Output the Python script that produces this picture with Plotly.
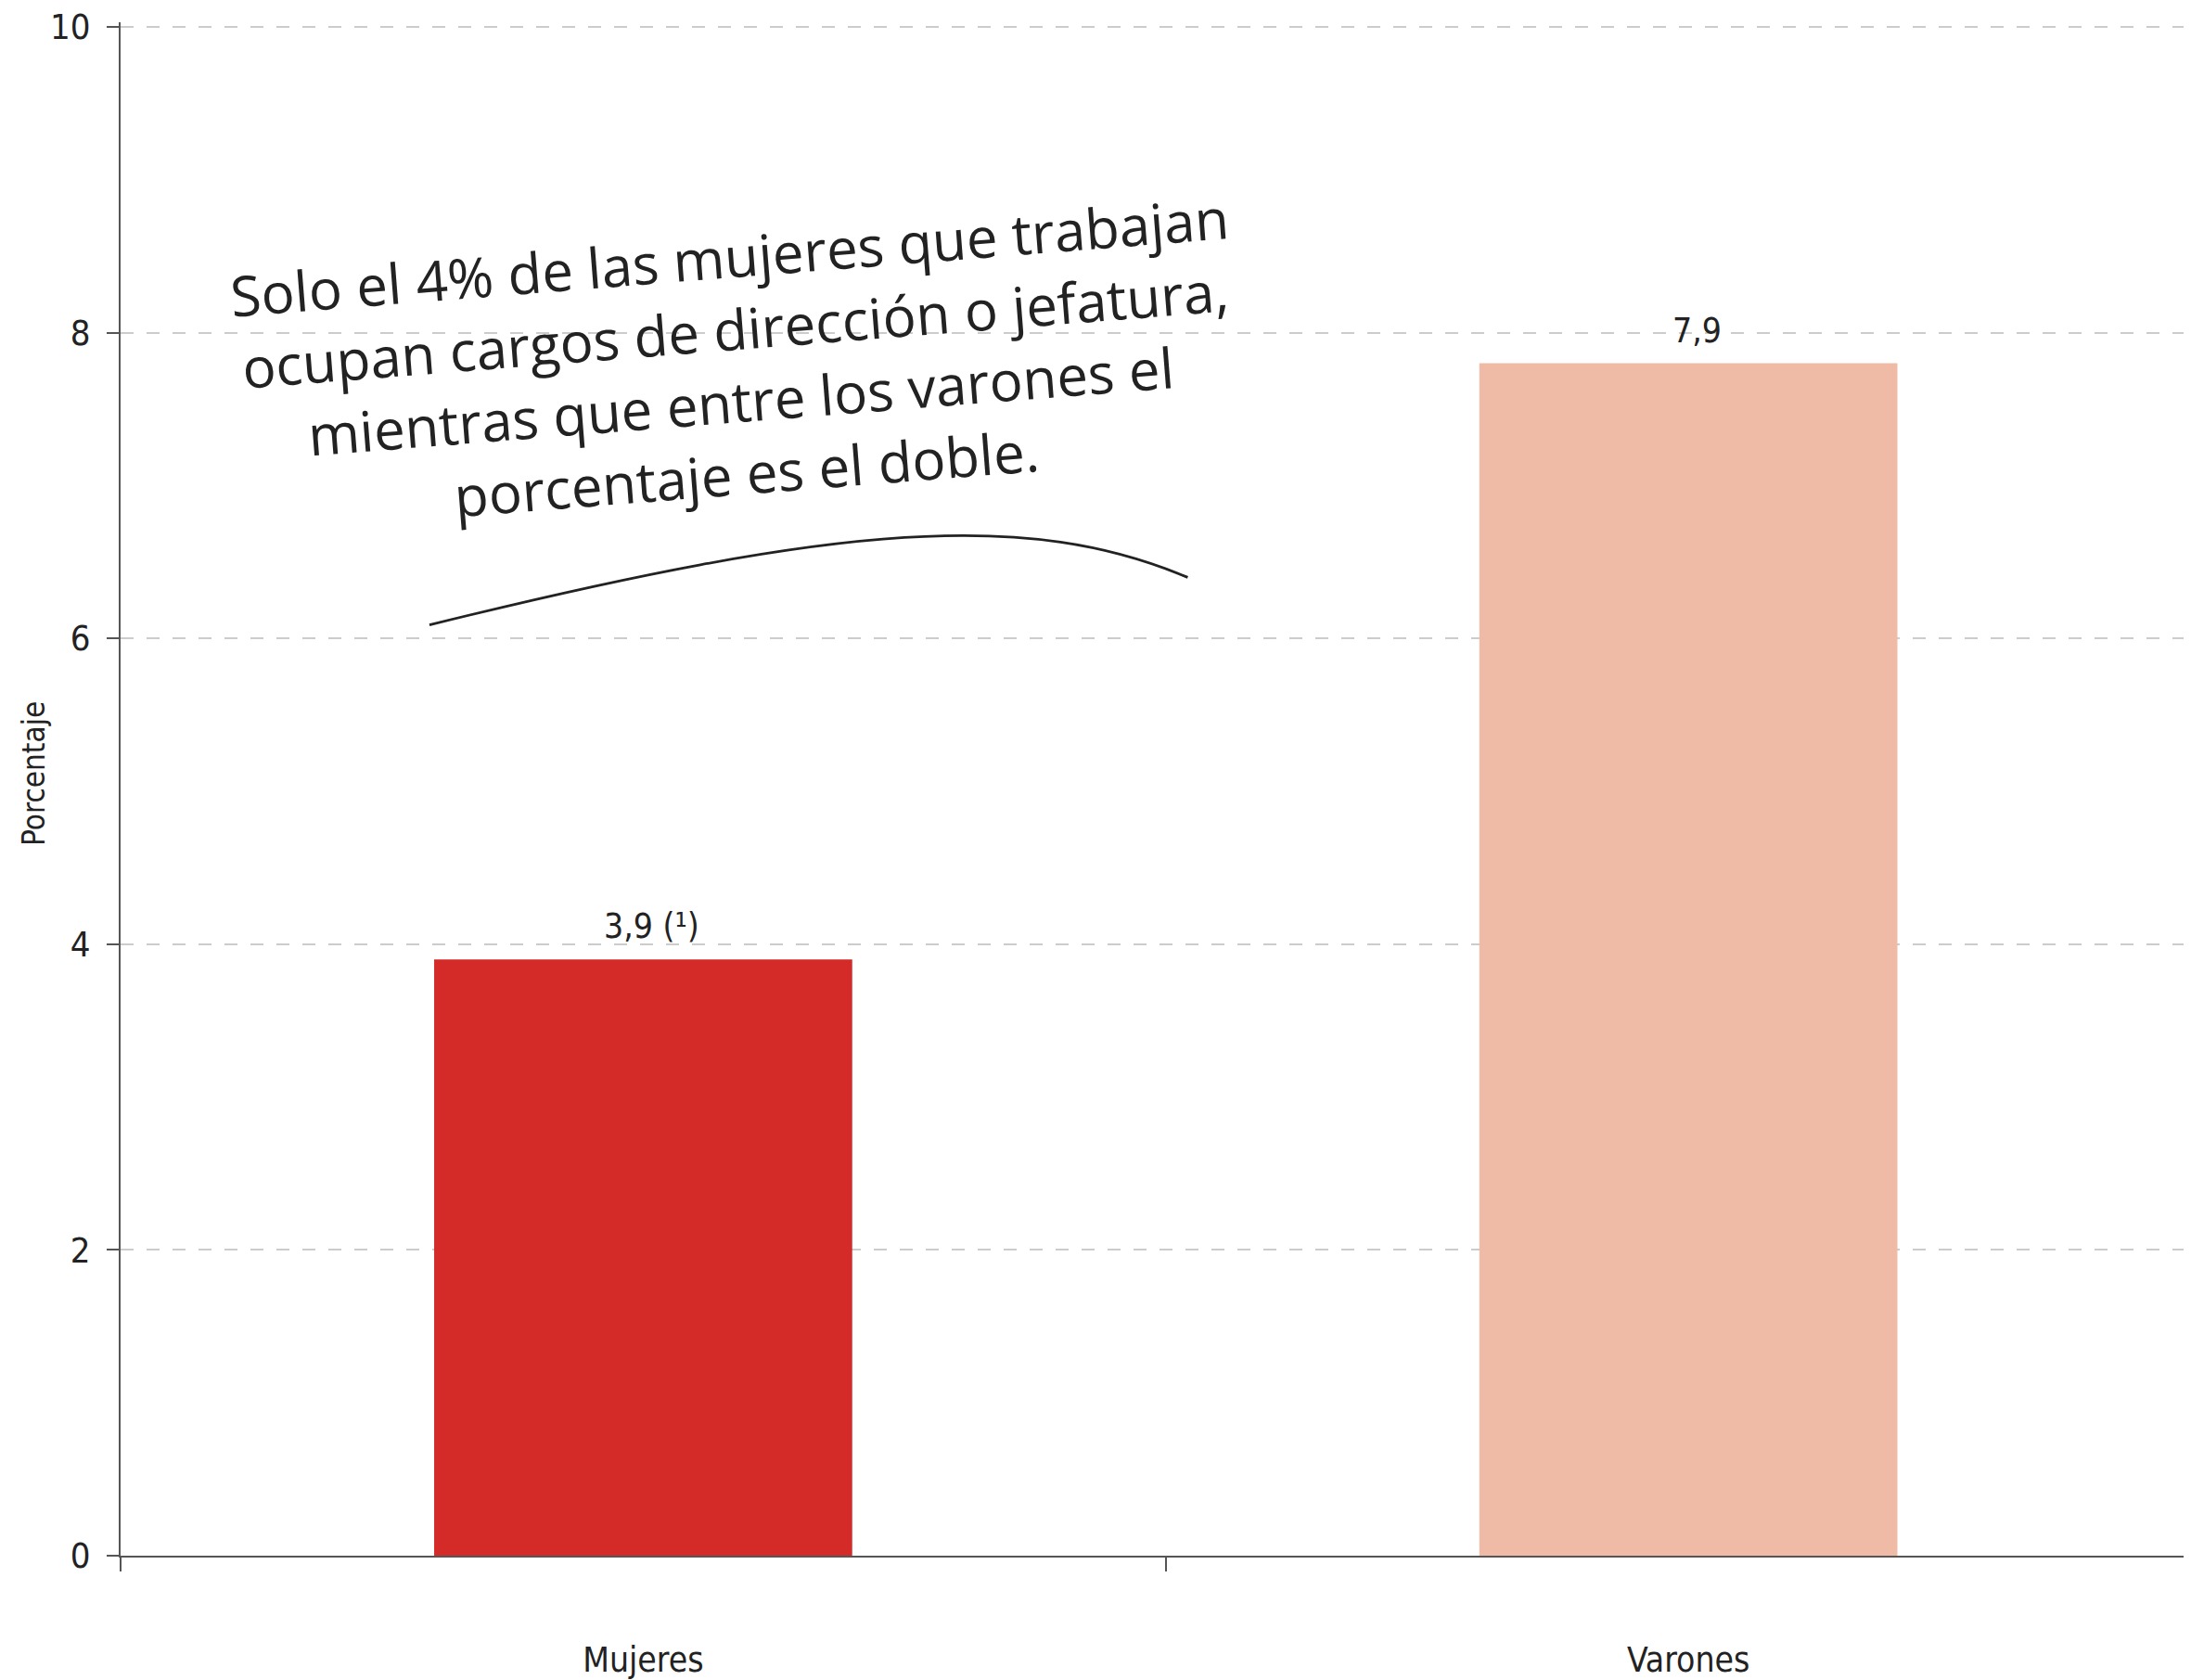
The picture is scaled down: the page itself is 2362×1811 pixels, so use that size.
import plotly.graph_objects as go

categories = ["Mujeres", "Varones"]
values = [3.9, 7.8]
value_labels = ["3,9 (¹)", "7,9"]
bar_colors = ["#D42A28", "#EFBBA6"]
y_ticks = [0, 2, 4, 6, 8, 10]
y_title = "Porcentaje"

note_text = ("Solo el 4% de las mujeres que trabajan<br>"
             "ocupan cargos de dirección o jefatura,<br>"
             "mientras que entre los varones el<br>"
             "porcentaje es el doble.")

FONT = "Liberation Sans Narrow, DejaVu Sans Condensed, Arial Narrow, sans-serif"

fig = go.Figure()
fig.add_trace(go.Bar(
    x=categories, y=values, width=0.4,
    marker=dict(color=bar_colors, line=dict(width=0)),
    showlegend=False, hoverinfo="skip",
))

for cat, val, lab in zip(categories, values, value_labels):
    fig.add_annotation(
        x=cat, y=val, xref="x", yref="y", text=lab, showarrow=False,
        yanchor="bottom", yshift=12, xshift=9,
        font=dict(family=FONT, size=37, color="#222222"),
    )

fig.add_annotation(
    x=0.091, y=7.79, xref="x", yref="y", text=note_text, showarrow=False,
    textangle=-4.5, align="center",
    font=dict(family="Open Sans, sans-serif", size=60, color="#222222"),
)

# y-axis title
fig.add_annotation(
    x=0, y=0.51, xref="paper", yref="paper", text=y_title, showarrow=False,
    textangle=-90, xanchor="center", yanchor="middle", xshift=-93,
    font=dict(family=FONT, size=33, color="#222222"),
)

fig.add_shape(
    type="path", xref="x", yref="y",
    path="M -0.2045,6.088 C 0.192,6.759 0.369,6.838 0.521,6.399",
    line=dict(color="#222222", width=2.8),
)

fig.update_layout(
    width=2362, height=1811,
    margin=dict(l=122, r=0, t=16, b=142),
    paper_bgcolor="white", plot_bgcolor="white",
    xaxis=dict(
        type="category", range=[-0.5, 1.488],
        showline=True, linecolor="#555555", linewidth=2,
        ticks="outside", tickson="boundaries", ticklen=15, tickcolor="#555555", tickwidth=2,
        showgrid=False, ticklabelstandoff=79,
        tickfont=dict(family=FONT, size=37, color="#222222"),
    ),
    yaxis=dict(
        range=[0, 10.03], tickvals=y_ticks, ticktext=[str(t) for t in y_ticks],
        showline=True, linecolor="#555555", linewidth=2,
        ticks="outside", ticklen=13, tickcolor="#555555", tickwidth=2,
        showgrid=True, gridcolor="#cccccc", gridwidth=1.5, griddash="14px,14px",
        zeroline=False, ticklabelstandoff=10, ticklabeloverflow="allow",
        tickfont=dict(family=FONT, size=38, color="#222222"),
    ),
)

fig.write_html("out.html")
